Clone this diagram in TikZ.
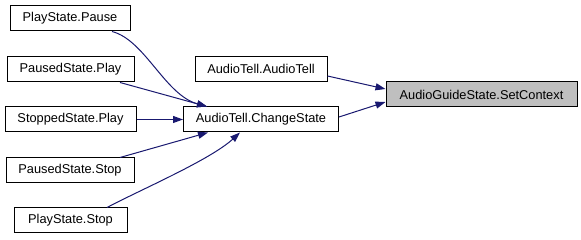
\documentclass[tikz,border=0pt]{standalone}
\usepackage{fontspec}
\setmainfont{Liberation Sans}
\usetikzlibrary{arrows.meta}
\definecolor{edgeblue}{HTML}{191970}
\definecolor{hilite}{HTML}{BFBFBF}
\begin{document}
\begin{tikzpicture}[x=1pt,y=-1pt,
  fnbox/.style={draw=black,line width=1pt,fill=white,minimum height=25pt,
    inner sep=0pt,font=\fontsize{12.8}{15}\selectfont},
  callee/.style={fnbox,fill=hilite},
  calls/.style={draw=edgeblue,line width=1pt,
    -{Triangle[length=10pt,width=7pt]}}]
\useasboundingbox[fill=white] (0,0) rectangle (581,240);

% callers on the left
\node[fnbox,minimum width=120pt] (pause) at (70,18.5) {PlayState.Pause};
\node[fnbox,minimum width=127pt] (pplay) at (70.5,69.5) {PausedState.Play};
\node[fnbox,minimum width=131pt] (splay) at (70.5,119.5) {StoppedState.Play};
\node[fnbox,minimum width=128pt] (pstop) at (70,170.5) {PausedState.Stop};
\node[fnbox,minimum width=113pt] (sstop) at (70.5,220.5) {PlayState.Stop};

% middle column
\node[fnbox,minimum width=132pt] (ctor) at (261,69) {AudioTell.AudioTell};
\node[fnbox,minimum width=155pt] (change) at (261,119.5) {AudioTell.ChangeState};

% the function itself
\node[callee,minimum width=191pt] (setctx) at (481.5,94.5) {AudioGuideState.SetContext};

% call edges
\draw[calls] ([xshift=42pt]pause.south) .. controls (145,40) and (165,95) .. ([xshift=-54pt]change.north);
\draw[calls] ([xshift=49.5pt]pplay.south) -- ([xshift=-54pt]change.north);
\draw[calls] (splay.east) -- (change.west);
\draw[calls] ([xshift=50pt]pstop.north) -- ([xshift=-53pt]change.south);
\draw[calls] ([xshift=36.5pt]sstop.north) .. controls (140,190) and (210,160) .. ([xshift=-21pt]change.south);
\draw[calls] ([yshift=-7pt]ctor.east) -- ([yshift=5.5pt]setctx.west);
\draw[calls] ([yshift=2.5pt]change.east) -- ([yshift=-7.5pt]setctx.west);
\end{tikzpicture}
\end{document}
